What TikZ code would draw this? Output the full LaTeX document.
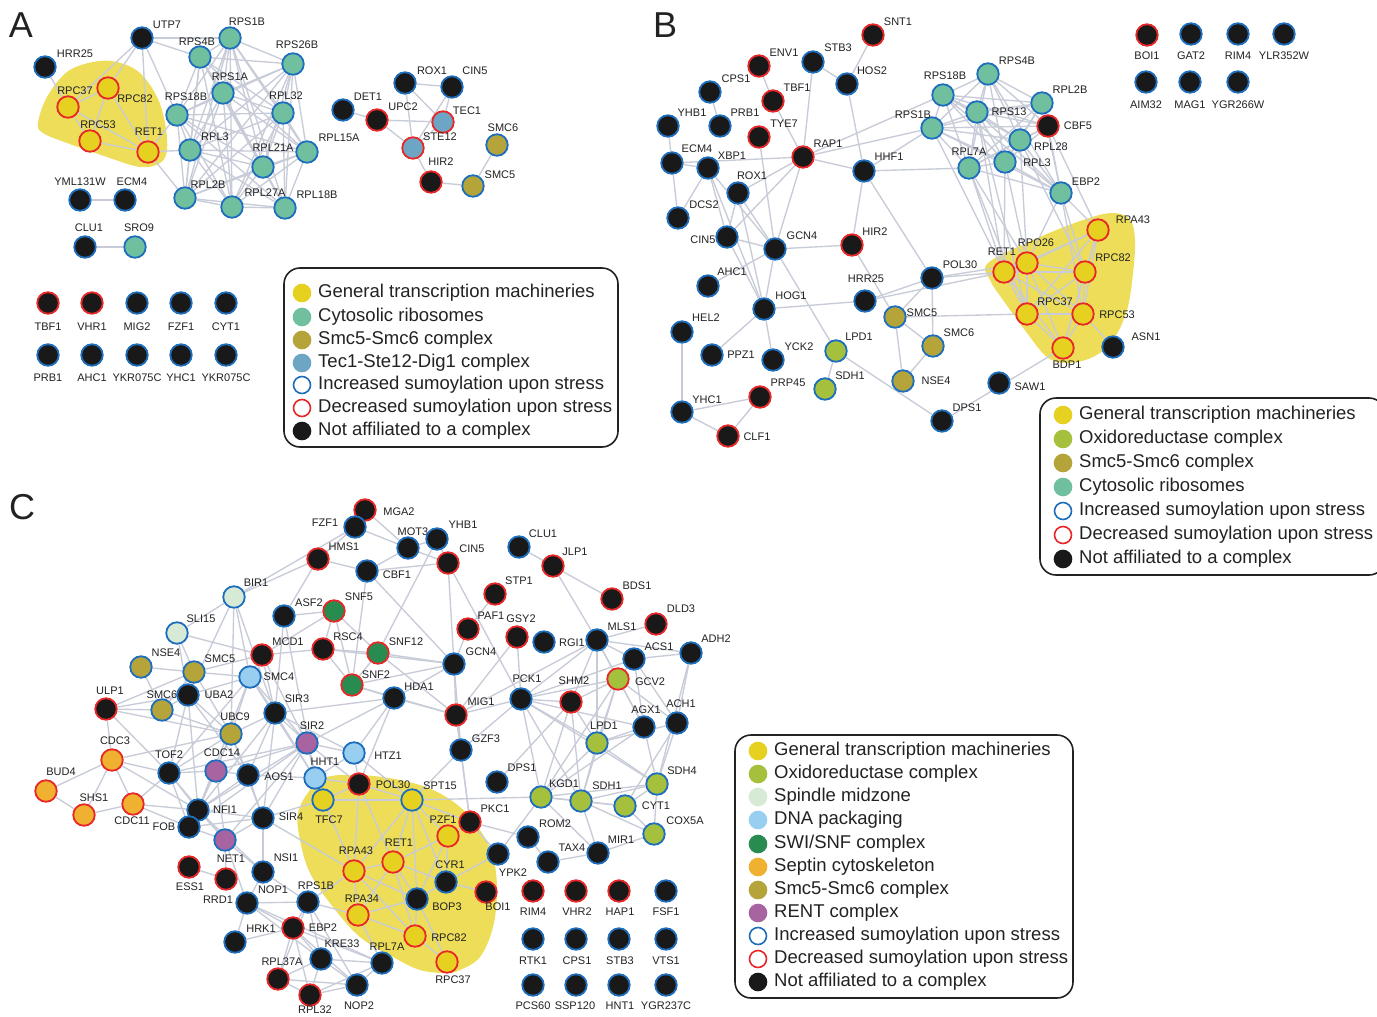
\documentclass[tikz,border=0pt]{standalone}
\usepackage{fontspec}
\setmainfont{Liberation Sans}
\definecolor{cyel}{RGB}{230,208,32}
\definecolor{cblob}{RGB}{237,221,88}
\definecolor{cribo}{RGB}{112,192,160}
\definecolor{colive}{RGB}{181,164,58}
\definecolor{csteel}{RGB}{108,166,196}
\definecolor{coxi}{RGB}{165,192,60}
\definecolor{cspin}{RGB}{214,234,214}
\definecolor{cdna}{RGB}{152,206,240}
\definecolor{cswi}{RGB}{40,140,80}
\definecolor{csept}{RGB}{240,176,48}
\definecolor{crent}{RGB}{168,100,160}
\definecolor{rblue}{RGB}{30,110,190}
\definecolor{rred}{RGB}{232,40,40}
\definecolor{nblack}{RGB}{25,25,25}
\definecolor{cedge}{RGB}{200,204,216}
\definecolor{txt}{RGB}{34,34,34}
\pgfdeclarelayer{blob}
\pgfdeclarelayer{edges}
\pgfsetlayers{blob,edges,main}
\tikzset{
 nd/.style={circle, minimum size=21.5pt, inner sep=0pt, line width=1.8pt},
 kb/.style={nd, fill=nblack, draw=rblue},
 kr/.style={nd, fill=nblack, draw=rred},
 yr/.style={nd, fill=cyel, draw=rred},
 yb/.style={nd, fill=cyel, draw=rblue},
 tb/.style={nd, fill=cribo, draw=rblue},
 ob/.style={nd, fill=colive, draw=rblue},
 sr/.style={nd, fill=csteel, draw=rred},
 gb/.style={nd, fill=coxi, draw=rblue},
 gr/.style={nd, fill=coxi, draw=rred},
 sp/.style={nd, fill=cspin, draw=rblue},
 dnab/.style={nd, fill=cdna, draw=rblue},
 swr/.style={nd, fill=cswi, draw=rred},
 sept/.style={nd, fill=csept, draw=rred},
 rent/.style={nd, fill=crent, draw=rblue},
 lbl/.style={font=\fontsize{11}{12}\selectfont, inner sep=0pt, text=txt},
 edge/.style={draw=cedge, line width=1.35pt},
 blobfill/.style={fill=cblob},
 legbox/.style={draw=txt, line width=1.6pt, rounded corners=16pt, inner sep=0pt},
 lc/.style={circle, minimum size=17pt, inner sep=0pt, line width=1.6pt},
 lgt/.style={anchor=west, inner sep=0pt, font=\fontsize{18.5}{20}\selectfont, text=txt},
 panel/.style={font=\fontsize{36}{36}\selectfont, text=txt, inner sep=0pt}
}
\newcommand\gn[5]{\node[#2] (#1) at (#3) {}; \node[lbl] (#1-t) at (#4) {#5};}
\newcommand\eds[2]{\foreach \u/\v in {#2}{\draw[edge] (#1-\u) -- (#1-\v);}}
\newcommand\clq[2]{\foreach \u [count=\i] in {#2}{\foreach \v [count=\j] in {#2}{\ifnum\j>\i\relax\draw[edge] (#1-\u) -- (#1-\v);\fi}}}
\newcommand\legent[5]{\node[lc,#2] (#1) at (#3,#4) {}; \node[lgt] (#1-t) at (#3+16,#4) {#5};}
\begin{document}
\begin{tikzpicture}[x=1pt,y=-1pt]
\useasboundingbox (0,0) rectangle (1377,1017);
\begin{pgfonlayer}{blob}
\fill[white] (0,0) rectangle (1377,1017);
\fill[blobfill] plot[smooth cycle, tension=0.6] coordinates {(38,123) (47,97) (67,72) (93,62) (117,62) (140,73) (157,97) (165,123) (167,150) (160,163) (140,167) (107,157) (67,143) (43,133)};
\fill[blobfill] plot[smooth cycle, tension=0.6] coordinates {(988,263) (1033,240) (1083,220) (1113,213) (1130,220) (1135,240) (1133,273) (1127,310) (1113,340) (1093,357) (1067,363) (1047,357) (1027,333) (1003,300) (990,280)};
\fill[blobfill] plot[smooth cycle, tension=0.6] coordinates {(310,790) (327,777) (360,775) (400,780) (433,790) (460,807) (480,830) (493,857) (497,890) (493,927) (480,957) (460,970) (447,973) (420,970) (393,957) (360,937) (333,907) (310,873) (300,840) (298,813)};
\end{pgfonlayer}
% panel letters
\node[panel] (pA) at (21,25) {A};
\node[panel] (pB) at (665,25) {B};
\node[panel] (pC) at (22,507) {C};
% ===== Panel A
\gn{a-UTP7}{kb}{142,38}{167,25}{UTP7}
\gn{a-HRR25}{kb}{45,67}{75,54}{HRR25}
\gn{a-RPS4B}{tb}{200,57}{197,42}{RPS4B}
\gn{a-RPS1B}{tb}{230,38}{247,22}{RPS1B}
\gn{a-RPS26B}{tb}{293,64}{297,45}{RPS26B}
\gn{a-RPS1A}{tb}{223,93}{230,77}{RPS1A}
\gn{a-RPL32}{tb}{283,113}{286,96}{RPL32}
\gn{a-RPS18B}{tb}{177,115}{186,97}{RPS18B}
\gn{a-RPL15A}{tb}{307,152}{339,138}{RPL15A}
\gn{a-RPL3}{tb}{190,150}{215,137}{RPL3}
\gn{a-RPL21A}{tb}{263,167}{273,148}{RPL21A}
\gn{a-RPL2B}{tb}{185,198}{208,185}{RPL2B}
\gn{a-RPL27A}{tb}{232,207}{265,193}{RPL27A}
\gn{a-RPL18B}{tb}{285,208}{317,195}{RPL18B}
\gn{a-RPC37}{yr}{68,107}{75,91}{RPC37}
\gn{a-RPC82}{yr}{108,88}{135,99}{RPC82}
\gn{a-RPC53}{yr}{90,141}{98,125}{RPC53}
\gn{a-RET1}{yr}{148,152}{149,132}{RET1}
\gn{a-YML131W}{kb}{80,200}{80,182}{YML131W}
\gn{a-ECM4}{kb}{125,200}{132,182}{ECM4}
\gn{a-CLU1}{kb}{85,247}{89,228}{CLU1}
\gn{a-SRO9}{tb}{135,247}{139,228}{SRO9}
\gn{a-DET1}{kb}{343,110}{368,97}{DET1}
\gn{a-UPC2}{kr}{377,120}{403,107}{UPC2}
\gn{a-ROX1}{kb}{405,83}{432,71}{ROX1}
\gn{a-CIN5}{kb}{452,87}{475,71}{CIN5}
\gn{a-TEC1}{sr}{443,122}{467,111}{TEC1}
\gn{a-STE12}{sr}{413,148}{440,137}{STE12}
\gn{a-HIR2}{kr}{431,182}{441,162}{HIR2}
\gn{a-SMC6}{ob}{497,145}{503,128}{SMC6}
\gn{a-SMC5}{ob}{473,186}{500,175}{SMC5}
\gn{a-TBF1}{kr}{48,303}{48,327}{TBF1}
\gn{a-VHR1}{kr}{92,303}{92,327}{VHR1}
\gn{a-MIG2}{kb}{137,303}{137,327}{MIG2}
\gn{a-FZF1}{kb}{181,303}{181,327}{FZF1}
\gn{a-CYT1}{kb}{226,303}{226,327}{CYT1}
\gn{a-PRB1}{kb}{48,355}{48,378}{PRB1}
\gn{a-AHC1}{kb}{92,355}{92,378}{AHC1}
\gn{a-YKR075C}{kb}{137,355}{137,378}{YKR075C}
\gn{a-YHC1}{kb}{181,355}{181,378}{YHC1}
\gn{a-YKR075Cb}{kb}{226,355}{226,378}{YKR075C}
% legend A
\node[legbox, minimum width=334pt, minimum height=179pt] (legA) at (451,357.5) {};
\legent{la1}{fill=cyel,draw=cyel}{302}{293}{General transcription machineries}
\legent{la2}{fill=cribo,draw=cribo}{302}{317}{Cytosolic ribosomes}
\legent{la3}{fill=colive,draw=colive}{302}{340}{Smc5-Smc6 complex}
\legent{la4}{fill=csteel,draw=csteel}{302}{363}{Tec1-Ste12-Dig1 complex}
\legent{la5}{fill=white,draw=rblue}{302}{385}{Increased sumoylation upon stress}
\legent{la6}{fill=white,draw=rred}{302}{408}{Decreased sumoylation upon stress}
\legent{la7}{fill=nblack,draw=nblack}{302}{431}{Not affiliated to a complex}
% ===== Panel B
\gn{b-SNT1}{kr}{873,35}{898,22}{SNT1}
\gn{b-ENV1}{kr}{759,66}{784,53}{ENV1}
\gn{b-STB3}{kb}{813,62}{838,48}{STB3}
\gn{b-HOS2}{kb}{847,84}{872,71}{HOS2}
\gn{b-CPS1}{kb}{710,92}{736,79}{CPS1}
\gn{b-TBF1}{kr}{773,101}{797,88}{TBF1}
\gn{b-YHB1}{kb}{668,126}{692,113}{YHB1}
\gn{b-PRB1}{kb}{720,126}{745,113}{PRB1}
\gn{b-TYE7}{kr}{759,137}{784,124}{TYE7}
\gn{b-RAP1}{kr}{803,157}{828,144}{RAP1}
\gn{b-ECM4}{kb}{672,163}{697,149}{ECM4}
\gn{b-XBP1}{kb}{708,168}{732,156}{XBP1}
\gn{b-HHF1}{kb}{864,171}{889,157}{HHF1}
\gn{b-ROX1}{kb}{738,193}{752,176}{ROX1}
\gn{b-DCS2}{kb}{678,218}{704,205}{DCS2}
\gn{b-CIN5}{kb}{727,237}{703,240}{CIN5}
\gn{b-GCN4}{kb}{775,249}{802,236}{GCN4}
\gn{b-HIR2}{kr}{852,245}{875,232}{HIR2}
\gn{b-AHC1}{kb}{708,286}{732,272}{AHC1}
\gn{b-HOG1}{kb}{764,309}{791,296}{HOG1}
\gn{b-HRR25}{kb}{865,301}{866,279}{HRR25}
\gn{b-POL30}{kb}{932,278}{960,265}{POL30}
\gn{b-SMC5}{ob}{895,317}{922,313}{SMC5}
\gn{b-SMC6}{ob}{933,346}{959,333}{SMC6}
\gn{b-HEL2}{kb}{682,332}{706,318}{HEL2}
\gn{b-PPZ1}{kb}{712,355}{741,355}{PPZ1}
\gn{b-YCK2}{kb}{773,360}{799,347}{YCK2}
\gn{b-LPD1}{gb}{836,351}{859,337}{LPD1}
\gn{b-SDH1}{gb}{825,389}{850,376}{SDH1}
\gn{b-NSE4}{ob}{903,381}{936,381}{NSE4}
\gn{b-PRP45}{kr}{760,397}{788,383}{PRP45}
\gn{b-YHC1}{kb}{682,412}{707,400}{YHC1}
\gn{b-CLF1}{kr}{728,436}{757,437}{CLF1}
\gn{b-DPS1}{kb}{942,421}{967,408}{DPS1}
\gn{b-SAW1}{kb}{999,383}{1030,387}{SAW1}
\gn{b-RPS4B}{tb}{988,74}{1017,61}{RPS4B}
\gn{b-RPS18B}{tb}{943,95}{945,76}{RPS18B}
\gn{b-RPL2B}{tb}{1042,103}{1070,90}{RPL2B}
\gn{b-RPS13}{tb}{977,112}{1009,112}{RPS13}
\gn{b-RPS1B}{tb}{932,128}{913,115}{RPS1B}
\gn{b-CBF5}{kr}{1048,126}{1078,126}{CBF5}
\gn{b-RPL28}{tb}{1020,140}{1051,147}{RPL28}
\gn{b-RPL7A}{tb}{969,168}{969,152}{RPL7A}
\gn{b-RPL3}{tb}{1005,162}{1037,163}{RPL3}
\gn{b-EBP2}{tb}{1061,193}{1086,182}{EBP2}
\gn{b-RPA43}{yr}{1098,230}{1133,220}{RPA43}
\gn{b-RPO26}{yr}{1027,263}{1036,243}{RPO26}
\gn{b-RET1}{yr}{1004,272}{1002,252}{RET1}
\gn{b-RPC82}{yr}{1085,272}{1113,258}{RPC82}
\gn{b-RPC37}{yr}{1027,314}{1055,302}{RPC37}
\gn{b-RPC53}{yr}{1083,314}{1117,315}{RPC53}
\gn{b-BDP1}{yr}{1063,348}{1067,365}{BDP1}
\gn{b-ASN1}{kb}{1113,347}{1146,337}{ASN1}
\gn{b-BOI1}{kr}{1147,35}{1147,56}{BOI1}
\gn{b-GAT2}{kb}{1191,34}{1191,56}{GAT2}
\gn{b-RIM4}{kb}{1238,34}{1238,56}{RIM4}
\gn{b-YLR352W}{kb}{1284,34}{1284,56}{YLR352W}
\gn{b-AIM32}{kb}{1146,82}{1146,105}{AIM32}
\gn{b-MAG1}{kb}{1190,82}{1190,105}{MAG1}
\gn{b-YGR266W}{kb}{1238,82}{1238,105}{YGR266W}
% legend B
\node[legbox, minimum width=345pt, minimum height=177pt] (legB) at (1212.5,486.5) {};
\legent{lb1}{fill=cyel,draw=cyel}{1063}{415}{General transcription machineries}
\legent{lb2}{fill=coxi,draw=coxi}{1063}{439}{Oxidoreductase complex}
\legent{lb3}{fill=colive,draw=colive}{1063}{463}{Smc5-Smc6 complex}
\legent{lb4}{fill=cribo,draw=cribo}{1063}{487}{Cytosolic ribosomes}
\legent{lb5}{fill=white,draw=rblue}{1063}{511}{Increased sumoylation upon stress}
\legent{lb6}{fill=white,draw=rred}{1063}{535}{Decreased sumoylation upon stress}
\legent{lb7}{fill=nblack,draw=nblack}{1063}{559}{Not affiliated to a complex}
% ===== Panel C
\gn{c-MGA2}{kr}{365,510}{399,512}{MGA2}
\gn{c-FZF1}{kb}{355,527}{325,523}{FZF1}
\gn{c-MOT3}{kb}{408,548}{413,532}{MOT3}
\gn{c-YHB1}{kb}{437,539}{463,525}{YHB1}
\gn{c-HMS1}{kr}{318,559}{344,547}{HMS1}
\gn{c-CBF1}{kb}{367,571}{397,575}{CBF1}
\gn{c-CIN5}{kr}{448,563}{472,549}{CIN5}
\gn{c-CLU1}{kb}{519,547}{543,534}{CLU1}
\gn{c-JLP1}{kr}{553,566}{575,552}{JLP1}
\gn{c-BIR1}{sp}{234,597}{256,583}{BIR1}
\gn{c-ASF2}{kb}{284,616}{309,603}{ASF2}
\gn{c-SNF5}{swr}{334,611}{359,597}{SNF5}
\gn{c-STP1}{kr}{495,594}{519,581}{STP1}
\gn{c-BDS1}{kr}{612,599}{637,586}{BDS1}
\gn{c-SLI15}{sp}{177,633}{201,619}{SLI15}
\gn{c-PAF1}{kr}{468,629}{491,616}{PAF1}
\gn{c-GSY2}{kr}{517,637}{521,619}{GSY2}
\gn{c-RGI1}{kb}{544,642}{572,643}{RGI1}
\gn{c-MLS1}{kb}{597,640}{622,627}{MLS1}
\gn{c-DLD3}{kr}{656,624}{681,609}{DLD3}
\gn{c-MCD1}{kr}{262,655}{288,642}{MCD1}
\gn{c-RSC4}{kr}{323,649}{348,637}{RSC4}
\gn{c-SNF12}{swr}{378,653}{406,642}{SNF12}
\gn{c-GCN4}{kb}{454,664}{481,652}{GCN4}
\gn{c-ACS1}{kb}{634,659}{659,647}{ACS1}
\gn{c-ADH2}{kb}{691,653}{716,639}{ADH2}
\gn{c-NSE4}{ob}{141,667}{166,653}{NSE4}
\gn{c-SMC5}{ob}{194,672}{220,659}{SMC5}
\gn{c-SMC4}{dnab}{250,677}{279,677}{SMC4}
\gn{c-SNF2}{swr}{352,685}{376,675}{SNF2}
\gn{c-HDA1}{kb}{394,698}{419,687}{HDA1}
\gn{c-PCK1}{kb}{521,699}{527,679}{PCK1}
\gn{c-SHM2}{kr}{571,702}{574,681}{SHM2}
\gn{c-GCV2}{gr}{618,679}{650,682}{GCV2}
\gn{c-ULP1}{kr}{106,709}{110,691}{ULP1}
\gn{c-SMC6}{ob}{162,710}{162,695}{SMC6}
\gn{c-UBA2}{kb}{188,695}{219,695}{UBA2}
\gn{c-SIR3}{kb}{275,713}{297,699}{SIR3}
\gn{c-MIG1}{kr}{456,715}{481,702}{MIG1}
\gn{c-AGX1}{kb}{644,727}{646,710}{AGX1}
\gn{c-ACH1}{kb}{677,723}{681,704}{ACH1}
\gn{c-UBC9}{ob}{231,734}{235,717}{UBC9}
\gn{c-SIR2}{rent}{307,743}{312,726}{SIR2}
\gn{c-LPD1}{gb}{597,743}{604,726}{LPD1}
\gn{c-GZF3}{kb}{461,750}{486,739}{GZF3}
\gn{c-HTZ1}{dnab}{354,753}{388,756}{HTZ1}
\gn{c-CDC3}{sept}{112,760}{115,741}{CDC3}
\gn{c-TOF2}{kb}{169,773}{169,755}{TOF2}
\gn{c-CDC14}{rent}{216,771}{222,753}{CDC14}
\gn{c-AOS1}{kb}{248,775}{279,777}{AOS1}
\gn{c-HHT1}{dnab}{315,778}{325,762}{HHT1}
\gn{c-DPS1}{kb}{497,782}{522,768}{DPS1}
\gn{c-SDH4}{gb}{657,784}{682,771}{SDH4}
\gn{c-BUD4}{sept}{46,791}{61,772}{BUD4}
\gn{c-POL30}{kr}{359,784}{393,785}{POL30}
\gn{c-TFC7}{yb}{323,800}{329,820}{TFC7}
\gn{c-SPT15}{yb}{412,800}{440,786}{SPT15}
\gn{c-KGD1}{gb}{541,797}{564,784}{KGD1}
\gn{c-SDH1}{gb}{581,801}{607,786}{SDH1}
\gn{c-CYT1}{gb}{625,806}{656,806}{CYT1}
\gn{c-SHS1}{sept}{84,815}{94,798}{SHS1}
\gn{c-CDC11}{sept}{133,804}{132,821}{CDC11}
\gn{c-NFI1}{kb}{198,810}{225,810}{NFI1}
\gn{c-SIR4}{kb}{263,818}{291,817}{SIR4}
\gn{c-FOB}{kb}{189,827}{164,827}{FOB}
\gn{c-PZF1}{yr}{448,836}{443,820}{PZF1}
\gn{c-PKC1}{kr}{470,822}{495,809}{PKC1}
\gn{c-COX5A}{gb}{654,834}{685,821}{COX5A}
\gn{c-NET1}{rent}{225,840}{231,859}{NET1}
\gn{c-ROM2}{kb}{528,837}{555,824}{ROM2}
\gn{c-MIR1}{kb}{598,853}{621,840}{MIR1}
\gn{c-TAX4}{kb}{548,862}{572,848}{TAX4}
\gn{c-CYR1}{kb}{446,882}{450,865}{CYR1}
\gn{c-RPA43}{yr}{354,871}{356,851}{RPA43}
\gn{c-RET1}{yr}{393,862}{399,843}{RET1}
\gn{c-NSI1}{kb}{263,872}{286,858}{NSI1}
\gn{c-ESS1}{kr}{189,867}{190,887}{ESS1}
\gn{c-RRD1}{kr}{226,879}{218,900}{RRD1}
\gn{c-YPK2}{kb}{498,854}{513,873}{YPK2}
\gn{c-BOP3}{kb}{417,899}{447,907}{BOP3}
\gn{c-BOI1}{kr}{486,892}{498,907}{BOI1}
\gn{c-NOP1}{kb}{247,903}{273,890}{NOP1}
\gn{c-RPS1B}{kb}{308,902}{316,886}{RPS1B}
\gn{c-RPA34}{yr}{358,915}{362,899}{RPA34}
\gn{c-EBP2}{kr}{293,928}{323,928}{EBP2}
\gn{c-HRK1}{kb}{235,942}{261,929}{HRK1}
\gn{c-RPC82}{yr}{415,936}{449,938}{RPC82}
\gn{c-KRE33}{kb}{321,959}{342,944}{KRE33}
\gn{c-RPL7A}{kb}{382,963}{387,947}{RPL7A}
\gn{c-RPC37}{yr}{447,962}{453,980}{RPC37}
\gn{c-RPL37A}{kr}{278,979}{282,962}{RPL37A}
\gn{c-NOP2}{kb}{357,985}{359,1006}{NOP2}
\gn{c-RPL32}{kr}{310,995}{315,1010}{RPL32}
\gn{c-RIM4}{kr}{533,891}{533,912}{RIM4}
\gn{c-VHR2}{kr}{576,891}{577,912}{VHR2}
\gn{c-HAP1}{kr}{619,891}{620,912}{HAP1}
\gn{c-FSF1}{kb}{666,891}{666,912}{FSF1}
\gn{c-RTK1}{kb}{533,939}{533,961}{RTK1}
\gn{c-CPS1}{kb}{576,939}{577,961}{CPS1}
\gn{c-STB3}{kb}{619,939}{620,961}{STB3}
\gn{c-VTS1}{kb}{666,939}{666,961}{VTS1}
\gn{c-PCS60}{kb}{533,985}{533,1006}{PCS60}
\gn{c-SSP120}{kb}{576,985}{575,1006}{SSP120}
\gn{c-HNT1}{kb}{619,985}{620,1006}{HNT1}
\gn{c-YGR237C}{kb}{666,985}{666,1006}{YGR237C}
% legend C
\node[legbox, minimum width=338pt, minimum height=263pt] (legC) at (904,866.5) {};
\legent{lc1}{fill=cyel,draw=cyel}{758}{751}{General transcription machineries}
\legent{lc2}{fill=coxi,draw=coxi}{758}{774}{Oxidoreductase complex}
\legent{lc3}{fill=cspin,draw=cspin}{758}{797}{Spindle midzone}
\legent{lc4}{fill=cdna,draw=cdna}{758}{820}{DNA packaging}
\legent{lc5}{fill=cswi,draw=cswi}{758}{844}{SWI/SNF complex}
\legent{lc6}{fill=csept,draw=csept}{758}{867}{Septin cytoskeleton}
\legent{lc7}{fill=colive,draw=colive}{758}{890}{Smc5-Smc6 complex}
\legent{lc8}{fill=crent,draw=crent}{758}{913}{RENT complex}
\legent{lc9}{fill=white,draw=rblue}{758}{936}{Increased sumoylation upon stress}
\legent{lc10}{fill=white,draw=rred}{758}{959}{Decreased sumoylation upon stress}
\legent{lc11}{fill=nblack,draw=nblack}{758}{982}{Not affiliated to a complex}
% ===== Edges
\begin{pgfonlayer}{edges}
\clq{a}{RPS4B,RPS1B,RPS26B,RPS1A,RPL32,RPS18B,RPL15A,RPL3,RPL21A,RPL2B,RPL27A,RPL18B}
\eds{a}{UTP7/RPS4B,UTP7/RPS1B,UTP7/RPC37,UTP7/RPC82,UTP7/RET1,UTP7/RPS18B,HRR25/RPC37,RPC37/RPC82,RPC37/RPC53,RPC37/RET1,RPC82/RPC53,RPC82/RET1,RPC53/RET1,RET1/RPL3,RET1/RPL2B,RET1/RPS18B,YML131W/ECM4,CLU1/SRO9,DET1/UPC2,UPC2/TEC1,UPC2/STE12,ROX1/CIN5,ROX1/STE12,ROX1/TEC1,CIN5/STE12,CIN5/TEC1,STE12/TEC1,STE12/HIR2,HIR2/SMC5,SMC5/SMC6}
\clq{b}{RPS4B,RPS18B,RPL2B,RPS13,RPS1B,CBF5,RPL28,RPL7A,RPL3,EBP2}
\clq{b}{RPA43,RPO26,RET1,RPC82,RPC37,RPC53,BDP1}
\eds{b}{SNT1/HOS2,ENV1/TBF1,STB3/HOS2,STB3/RAP1,HOS2/HHF1,CPS1/PRB1,TBF1/RAP1,TYE7/GCN4,YHB1/ECM4,ECM4/XBP1,ECM4/RAP1,ECM4/DCS2,XBP1/DCS2,XBP1/CIN5,XBP1/GCN4,XBP1/HOG1,RAP1/ROX1,RAP1/CIN5,RAP1/HHF1,RAP1/GCN4,RAP1/RPS1B,RAP1/RPS18B,HHF1/RPS1B,HHF1/RPL7A,HHF1/HIR2,HHF1/POL30,ROX1/CIN5,ROX1/GCN4,ROX1/HOG1,CIN5/GCN4,CIN5/HOG1,GCN4/HIR2,GCN4/HOG1,GCN4/LPD1,AHC1/GCN4,HOG1/HRR25,HRR25/POL30,HRR25/RET1,HOG1/PPZ1,HOG1/YCK2,HIR2/SMC5,LPD1/SDH1,LPD1/DPS1,SMC5/SMC6,SMC5/NSE4,SMC6/NSE4,SMC5/POL30,SMC6/POL30,POL30/RET1,POL30/RPO26,SMC5/RPC37,HEL2/YHC1,YHC1/PRP45,YHC1/CLF1,PRP45/CLF1,DPS1/BDP1,ASN1/RPC53,RPL7A/RET1,RPL7A/RPO26,RPL7A/RPC37,RPL3/RET1,RPL3/RPO26,RPS13/RET1,RPS13/RPC37,RPL28/RPO26,RPL28/RPC82,EBP2/RPA43,EBP2/RPO26,EBP2/RPC82,EBP2/RPC53,CBF5/RPA43,RPS1B/RET1}
\eds{c}{MGA2/FZF1,MGA2/MOT3,FZF1/HMS1,FZF1/MOT3,FZF1/BIR1,MOT3/YHB1,MOT3/CBF1,MOT3/CIN5,HMS1/CBF1,HMS1/ASF2,HMS1/BIR1,CBF1/CIN5,CBF1/GCN4,CBF1/SNF2,YHB1/CIN5,YHB1/SNF12,CIN5/GCN4,CIN5/PCK1,CLU1/JLP1,JLP1/BDS1,JLP1/MLS1,STP1/PAF1,PAF1/GCN4,GSY2/MIG1,GSY2/PCK1,MLS1/DLD3,MLS1/ACS1,MLS1/GCV2,MLS1/PCK1,MLS1/SHM2,MLS1/AGX1,MLS1/ADH2,MLS1/MIG1,MLS1/LPD1,ACS1/ADH2,ACS1/GCV2,ACS1/AGX1,ACS1/ACH1,ACS1/PCK1,ADH2/ACH1,ADH2/SDH4,GCV2/LPD1,GCV2/SHM2,GCV2/KGD1,GCV2/SDH1,GCV2/AGX1,GCV2/PCK1,GCV2/ACH1,PCK1/MIG1,PCK1/SHM2,PCK1/AGX1,PCK1/LPD1,PCK1/KGD1,PCK1/GZF3,PCK1/SDH4,PCK1/SDH1,SHM2/LPD1,SHM2/KGD1,SHM2/SDH1,SHM2/DPS1,LPD1/KGD1,LPD1/SDH1,LPD1/AGX1,LPD1/SDH4,LPD1/ACH1,AGX1/SDH4,AGX1/KGD1,ACH1/SDH4,ACH1/CYT1,KGD1/SDH1,KGD1/SDH4,KGD1/CYT1,KGD1/SPT15,KGD1/MIR1,KGD1/YPK2,SDH1/SDH4,SDH1/CYT1,SDH1/MIR1,SDH1/COX5A,CYT1/COX5A,CYT1/SDH4,COX5A/MIR1,SDH4/COX5A,MIR1/TAX4,TAX4/ROM2,ROM2/PKC1,YPK2/PKC1,YPK2/CYR1,PKC1/PZF1,PKC1/SPT15,PKC1/GZF3,PKC1/MIG1,GZF3/MIG1,GZF3/SPT15,GZF3/GCN4,MIG1/GCN4,MIG1/HDA1,MIG1/SNF12,MIG1/SNF2,GCN4/SNF12,GCN4/HDA1,GCN4/SNF2,GCN4/RSC4,SNF5/RSC4,SNF5/SNF12,SNF5/SNF2,RSC4/SNF12,RSC4/SNF2,SNF12/SNF2,SNF2/HDA1,SNF5/ASF2,SNF5/MCD1,HDA1/SIR2,HDA1/SIR3,HDA1/HTZ1,HDA1/POL30}
\eds{c}{NSE4/SMC5,NSE4/SMC6,SMC5/SMC6,SMC5/UBA2,SMC6/UBA2,SMC5/SMC4,SMC5/UBC9,SMC6/UBC9,UBA2/UBC9,ULP1/SMC6,ULP1/UBA2,ULP1/UBC9,ULP1/CDC3,ULP1/TOF2,ULP1/SMC5,BIR1/SLI15,BIR1/UBC9,BIR1/SIR3,BIR1/SMC4,BIR1/UBA2,SLI15/MCD1,SLI15/UBA2,SLI15/SMC5,MCD1/SMC4,MCD1/SMC5,MCD1/SIR3,MCD1/RSC4,MCD1/SIR2,ASF2/SIR3,ASF2/HHT1,SMC4/SIR3,SMC4/UBA2,SMC4/SIR2,SMC4/HHT1,SMC4/TOF2,SMC4/NFI1,SIR3/SIR2,SIR3/SIR4,SIR3/NFI1,SIR3/HHT1,SIR3/HTZ1,SIR3/UBC9,SIR3/AOS1,SIR2/SIR4,SIR2/NET1,SIR2/HHT1,SIR2/HTZ1,SIR2/TOF2,SIR2/CDC14,SIR2/NFI1,SIR2/POL30,SIR2/FOB,UBC9/AOS1,UBC9/TOF2,UBC9/CDC14,UBC9/NFI1,UBC9/SIR4,UBC9/CDC3,UBC9/SMC4,UBA2/AOS1,UBA2/NFI1,UBA2/TOF2,TOF2/CDC14,TOF2/NET1,TOF2/NFI1,TOF2/FOB,CDC14/NET1,CDC14/NFI1,CDC14/AOS1,NFI1/FOB,NFI1/NET1,NFI1/SIR4,NFI1/AOS1,NFI1/CDC11,FOB/NET1,FOB/SIR4,NET1/SIR4,NET1/RRD1,NET1/NOP1,NET1/NSI1,AOS1/HHT1,AOS1/SIR4,HHT1/HTZ1,HHT1/POL30,HHT1/TFC7,HTZ1/POL30,HTZ1/SPT15,CDC3/BUD4,CDC3/SHS1,CDC3/CDC11,BUD4/SHS1,SHS1/CDC11,CDC11/TOF2,CDC3/TOF2,CDC3/NFI1,ESS1/RRD1,NOP1/HRK1,NOP1/RPS1B,NOP1/EBP2,NOP1/KRE33,NOP1/NSI1,NOP1/RPL7A,NSI1/SIR4,NSI1/RPS1B,NFI1/NSI1,FOB/CDC11,SIR2/TFC7,TFC7/SIR4,SIR4/RPA43}
\eds{c}{RPS1B/EBP2,RPS1B/KRE33,RPS1B/RPA43,RPS1B/RPL37A,RPS1B/NOP2,RPS1B/RPA34,EBP2/KRE33,EBP2/RPL37A,EBP2/RPL32,EBP2/NOP2,EBP2/RPL7A,EBP2/HRK1,KRE33/NOP2,KRE33/RPL7A,KRE33/RPL37A,KRE33/RPL32,RPL7A/NOP2,RPL7A/RPL32,RPL7A/RPA34,RPL37A/RPL32,RPL37A/NOP2,RPL32/NOP2,POL30/TFC7,POL30/SPT15,POL30/RPA43,POL30/RET1,TFC7/SPT15,TFC7/RPA43,SPT15/RET1,SPT15/PZF1,SPT15/CYR1,SPT15/BOP3,SPT15/RPA43,RPA43/RET1,RPA43/RPA34,RPA43/BOP3,RPA43/RPC82,RET1/BOP3,RET1/RPA34,RET1/PZF1,RET1/CYR1,RET1/RPC82,PZF1/CYR1,PZF1/BOP3,CYR1/BOP3,CYR1/BOI1,BOP3/RPA34,BOP3/RPC82,BOP3/RPC37,RPA34/RPC82,RPC82/RPC37}
\end{pgfonlayer}
\end{tikzpicture}
\end{document}
